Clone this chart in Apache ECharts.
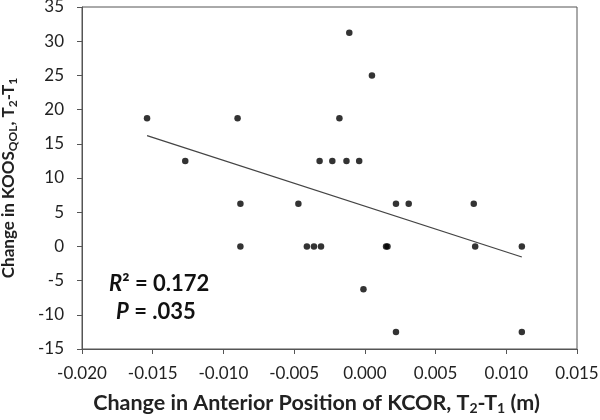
<!DOCTYPE html>
<html><head><meta charset="utf-8">
<script src="https://cdn.jsdelivr.net/npm/echarts@6/dist/echarts.min.js"></script>
<style>html,body{margin:0;padding:0;background:#fff}#c{width:600px;height:420px}</style>
</head><body><div id="c"></div>
<script>
const xValues = [-0.0154, -0.0090, -0.0127, -0.0032, -0.0023, -0.0018, -0.0011, 0.0005, -0.0013, -0.0004,
  -0.0088, -0.0047, -0.0088, -0.0041, -0.0036, -0.0031, 0.0022, 0.0031, 0.0077, 0.0015, 0.0016, 0.0078,
  0.0111, -0.0001, 0.0022, 0.0111];
const yValues = [18.75, 18.75, 12.5, 12.5, 12.5, 18.75, 31.25, 25, 12.5, 12.5,
  6.25, 6.25, 0, 0, 0, 0, 6.25, 6.25, 6.25, 0, 0, 0,
  0, -6.25, -12.5, -12.5];
const trendX = [-0.0154, 0.0111];
const trendY = [16.2, -1.55];
const xTicks = {min: -0.020, max: 0.015, step: 0.005};
const yTicks = {min: -15, max: 35, step: 5};
const statR2 = '0.172';
const statP = '.035';

const font = 'Lato, "Open Sans", sans-serif';
const axisColor = '#555';
const chart = echarts.init(document.getElementById('c'));
chart.setOption({
  animation: false,
  grid: {left: 82, right: 23, top: 7, bottom: 71, show: true, borderColor: axisColor, borderWidth: 1,
         containLabel: false, outerBoundsMode: 'none'},
  xAxis: {
    type: 'value', min: xTicks.min, max: xTicks.max, interval: xTicks.step,
    axisLine: {show: true, onZero: false, lineStyle: {color: axisColor}},
    axisTick: {show: true, inside: false, length: 5, lineStyle: {color: axisColor}},
    splitLine: {show: false},
    axisLabel: {formatter: v => v.toFixed(3), color: '#222', fontSize: 17, fontFamily: font, margin: 16},
    name: '{b|Change in Anterior Position of KCOR, T}{s|2}{b|-T}{s|1}{b| (m)}',
    nameLocation: 'middle', nameGap: 42,
    nameTextStyle: {padding: [0, 26, 0, 0], rich: {
      b: {fontSize: 21.5, fontWeight: 'bold', fontFamily: font, color: '#222', lineHeight: 24},
      s: {fontSize: 14, fontWeight: 'bold', fontFamily: font, color: '#222', lineHeight: 24, verticalAlign: 'bottom', padding: [8, 0, 0, 0]}
    }}
  },
  yAxis: {
    type: 'value', min: yTicks.min, max: yTicks.max, interval: yTicks.step,
    axisLine: {show: true, onZero: false, lineStyle: {color: axisColor}},
    axisTick: {show: true, inside: false, length: 5, lineStyle: {color: axisColor}},
    splitLine: {show: false},
    axisLabel: {color: '#222', fontSize: 17, fontFamily: font, margin: 18},
    name: '{b|Change in KOOS}{s|QOL}{b|, T}{s|2}{b|-T}{s|1}',
    nameLocation: 'middle', nameGap: 63,
    nameTextStyle: {rich: {
      b: {fontSize: 17, fontWeight: 'bold', fontFamily: font, color: '#222', lineHeight: 21},
      s: {fontSize: 12, fontWeight: 'bold', fontFamily: font, color: '#222', lineHeight: 21, verticalAlign: 'bottom', padding: [7, 0, 0, 0]}
    }}
  },
  series: [
    {type: 'line', data: trendX.map((x, i) => [x, trendY[i]]), showSymbol: false, symbol: 'none',
     lineStyle: {color: '#444', width: 1.3}, z: 1},
    {type: 'scatter', data: xValues.map((x, i) => [x, yValues[i]]), symbolSize: 6.5,
     itemStyle: {color: '#000'}, z: 2}
  ],
  graphic: [
    {type: 'text', left: 109, top: 273, style: {
      text: '{i|R}{n|² = ' + statR2 + '}',
      rich: {i: {fontSize: 22, fontWeight: 'bold', fontStyle: 'italic', fontFamily: font, fill: '#111'},
             n: {fontSize: 22, fontWeight: 'bold', fontFamily: font, fill: '#111'}}
    }},
    {type: 'text', left: 116, top: 301, style: {
      text: '{i|P}{n| = ' + statP + '}',
      rich: {i: {fontSize: 22, fontWeight: 'bold', fontStyle: 'italic', fontFamily: font, fill: '#111'},
             n: {fontSize: 22, fontWeight: 'bold', fontFamily: font, fill: '#111'}}
    }}
  ]
});
</script></body></html>
